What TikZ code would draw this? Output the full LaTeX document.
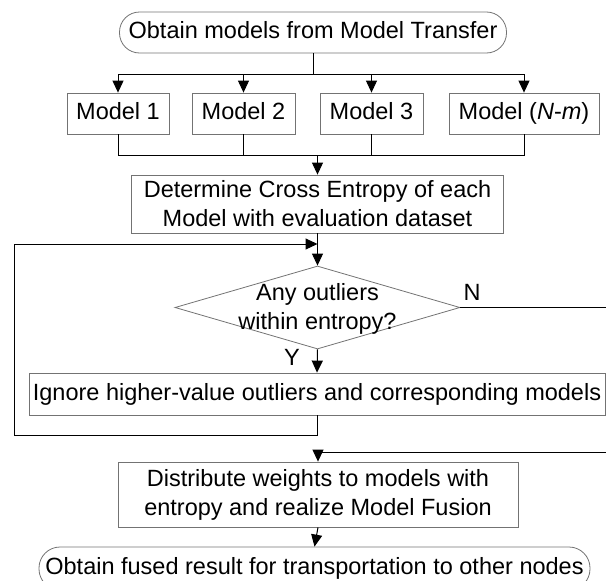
\documentclass[tikz,border=0pt]{standalone}
\usepackage{fontspec}
\setmainfont{Liberation Sans}
\usetikzlibrary{arrows.meta,shapes.geometric}
\begin{document}
\begin{tikzpicture}[x=1pt,y=-1pt,
  font=\fontsize{23.5pt}{29pt}\selectfont,
  box/.style={draw=black!55,line width=0.8pt,inner sep=0pt,align=center,anchor=center},
  onel/.style={box,text height=17pt,text depth=5pt},
  capsule/.style={onel,rounded corners=20pt},
  link/.style={draw=black,line width=1pt},
  arr/.style={link,-{Triangle[width=11pt,length=12pt]}},
  lbl/.style={inner sep=0pt,anchor=center}
]
\useasboundingbox (0,0) rectangle (606,581);
% nodes
\node[capsule,minimum width=387pt,minimum height=41pt] (top) at (313,32.5) {Obtain models from Model Transfer};
\node[onel,minimum width=102pt,minimum height=41pt] (m1) at (118,113.5) {Model 1};
\node[onel,minimum width=103pt,minimum height=41pt] (m2) at (243.5,113.5) {Model 2};
\node[onel,minimum width=103pt,minimum height=41pt] (m3) at (371.5,113.5) {Model 3};
\node[onel,minimum width=150pt,minimum height=41pt] (mN) at (524,113.5) {Model (\textit{N}-\textit{m})};
\node[box,minimum width=372pt,minimum height=58pt] (det) at (317.5,204) {Determine Cross Entropy of each\\Model with evaluation dataset};
\node[diamond,draw=black!55,line width=0.8pt,inner sep=0pt,minimum width=285pt,minimum height=83pt] (dia) at (317.5,307.5) {};
\node[lbl,align=center] (diatext) at (317.5,309) {Any outliers\\within entropy?};
\node[lbl] (Nlab) at (472,292) {N};
\node[lbl] (Ylab) at (292,357) {Y};
\node[onel,minimum width=576pt,minimum height=42pt] (ign) at (317,394) {Ignore higher-value outliers and corresponding models};
\node[box,minimum width=400pt,minimum height=65pt] (dis) at (318,494.5) {Distribute weights to models with\\entropy and realize Model Fusion};
\node[capsule,minimum width=551pt,minimum height=43pt,rounded corners=21pt] (fin) at (314.5,568.5) {Obtain fused result for transportation to other nodes};
% coordinates
\coordinate (bus) at (313,74);
\coordinate (bus2) at (317.5,155);
\coordinate (loopin) at (317.5,244);
\coordinate (lb) at (14,435);
\coordinate (nr) at (610,307.5);
\coordinate (nb) at (610,452);
% connectors
\draw[link] (top.south) -- (bus);
\draw[link] (m1 |- bus) -- (mN |- bus);
\draw[arr] (m1 |- bus) -- (m1.north);
\draw[arr] (m2 |- bus) -- (m2.north);
\draw[arr] (m3 |- bus) -- (m3.north);
\draw[arr] (mN |- bus) -- (mN.north);
\draw[link] (m1.south) -- (m1 |- bus2) -- (mN |- bus2) -- (mN.south);
\draw[link] (m2.south) -- (m2 |- bus2);
\draw[link] (m3.south) -- (m3 |- bus2);
\draw[arr] (bus2) -- (det.north);
\draw[arr] (det.south) -- (dia.north);
\draw[arr] (ign.south) |- (lb) |- (loopin);
\draw[arr] (dia.south) -- (ign.north);
\draw[arr] (dia.east) -- (nr) -- (nb) -| (dis.north);
\draw[arr] (dis.south) -- (fin.north);
\end{tikzpicture}
\end{document}
